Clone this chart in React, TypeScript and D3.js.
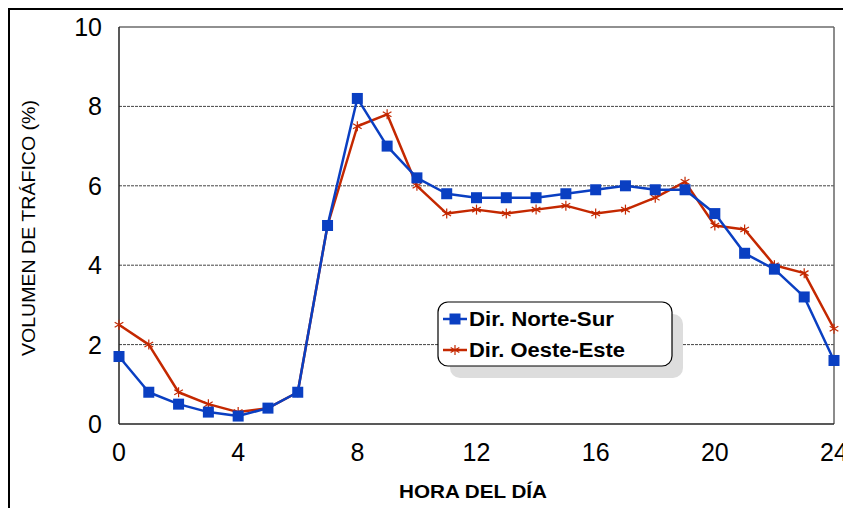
import * as d3 from "d3";

const hours = d3.range(0, 25);
const norteSur = [1.7, 0.8, 0.5, 0.3, 0.2, 0.4, 0.8, 5.0, 8.2, 7.0, 6.2, 5.8, 5.7, 5.7, 5.7, 5.8, 5.9, 6.0, 5.9, 5.9, 5.3, 4.3, 3.9, 3.2, 1.6];
const oesteEste = [2.5, 2.0, 0.8, 0.5, 0.3, 0.4, 0.8, 5.0, 7.5, 7.8, 6.0, 5.3, 5.4, 5.3, 5.4, 5.5, 5.3, 5.4, 5.7, 6.1, 5.0, 4.9, 4.0, 3.8, 2.4];
const xTicks = [0, 4, 8, 12, 16, 20, 24];
const yTicks = [0, 2, 4, 6, 8, 10];

const BLUE = "#0A3FC2";
const RED = "#C42800";
const W = 843;
const H = 508;
const M = { left: 119, right: 834, top: 27, bottom: 424 };

function Star({ x, y, r = 5 }: { x: number; y: number; r?: number }) {
  const c = r * 0.866;
  return (
    <g stroke={RED} strokeWidth={1.2}>
      <line x1={x} y1={y - r} x2={x} y2={y + r} />
      <line x1={x - c} y1={y - r / 2} x2={x + c} y2={y + r / 2} />
      <line x1={x - c} y1={y + r / 2} x2={x + c} y2={y - r / 2} />
    </g>
  );
}

export default function App() {
  const x = d3.scaleLinear().domain([0, 24]).range([M.left, M.right]);
  const y = d3.scaleLinear().domain([0, 10]).range([M.bottom, M.top]);
  const line = d3
    .line<number>()
    .x((_, i) => x(hours[i]))
    .y((d) => y(d));
  const font = "Arial, 'Liberation Sans', sans-serif";

  return (
    <svg width={W} height={H} style={{ position: "absolute", left: 0, top: 0, background: "#fff" }} fontFamily={font}>
      <rect x={9} y={9} width={W} height={H} fill="#fff" stroke="#000" strokeWidth={2} />

      {yTicks.filter((t) => t > 0 && t < 10).map((t) => (
        <line key={t} x1={M.left} x2={M.right} y1={y(t)} y2={y(t)} stroke="#444" strokeWidth={1} strokeDasharray="3,1" />
      ))}
      <line x1={M.left} x2={M.right} y1={M.top} y2={M.top} stroke="#222" strokeWidth={1.2} />
      <line x1={M.right} x2={M.right} y1={M.top} y2={M.bottom} stroke="#666" strokeWidth={1.5} />
      <line x1={M.left} x2={M.left} y1={M.top} y2={M.bottom} stroke="#222" strokeWidth={1.5} />
      <line x1={M.left} x2={M.right} y1={M.bottom} y2={M.bottom} stroke="#222" strokeWidth={1.5} />

      {yTicks.map((t) => (
        <text key={t} x={102} y={y(t)} dy="0.36em" textAnchor="end" fontSize={25} fill="#000">
          {t}
        </text>
      ))}
      {xTicks.map((t) => (
        <text key={t} x={x(t)} y={461} textAnchor="middle" fontSize={25} fill="#000">
          {t}
        </text>
      ))}

      <text x={473} y={498} textAnchor="middle" fontSize={19} fontWeight="bold" fill="#000" textLength={148} lengthAdjust="spacingAndGlyphs">
        HORA DEL DÍA
      </text>
      <text transform={`translate(35,228) rotate(-90)`} textAnchor="middle" fontSize={18} fill="#000" textLength={256} lengthAdjust="spacingAndGlyphs">
        VOLUMEN DE TRÁFICO (%)
      </text>

      <path d={line(oesteEste) ?? ""} fill="none" stroke={RED} strokeWidth={2.5} strokeLinejoin="round" />
      {oesteEste.map((v, i) => (
        <Star key={i} x={x(hours[i])} y={y(v)} />
      ))}
      <path d={line(norteSur) ?? ""} fill="none" stroke={BLUE} strokeWidth={2.5} strokeLinejoin="round" />
      {norteSur.map((v, i) => (
        <rect key={i} x={x(hours[i]) - 5.5} y={y(v) - 5.5} width={11} height={11} fill={BLUE} />
      ))}

      <g>
        <rect x={450} y={314} width={233} height={64} rx={10} fill="#ddd" />
        <rect x={438} y={302} width={234} height={64} rx={10} fill="#fff" stroke="#000" strokeWidth={1.2} />
        <line x1={443} x2={467} y1={319} y2={319} stroke={BLUE} strokeWidth={2.5} />
        <rect x={449.5} y={313.5} width={11} height={11} fill={BLUE} />
        <text x={469} y={326} fontSize={19.5} fontWeight="bold" fill="#000" textLength={145} lengthAdjust="spacingAndGlyphs">
          Dir. Norte-Sur
        </text>
        <line x1={443} x2={467} y1={350} y2={350} stroke={RED} strokeWidth={2.5} />
        <Star x={455} y={350} />
        <text x={469} y={357} fontSize={19.5} fontWeight="bold" fill="#000" textLength={156} lengthAdjust="spacingAndGlyphs">
          Dir. Oeste-Este
        </text>
      </g>
    </svg>
  );
}
